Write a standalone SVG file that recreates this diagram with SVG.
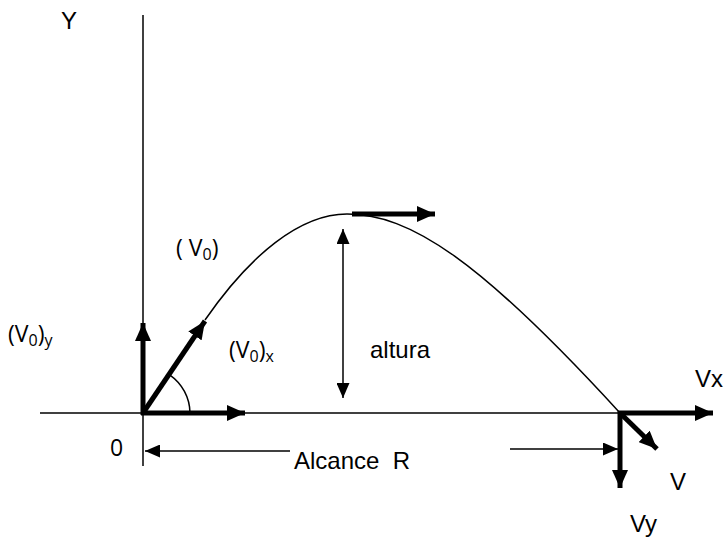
<svg xmlns="http://www.w3.org/2000/svg" width="725" height="539" viewBox="0 0 725 539">
<defs>
<marker id="thin" viewBox="0 0 15 13" refX="15" refY="6.5" markerWidth="15" markerHeight="13" markerUnits="userSpaceOnUse" orient="auto-start-reverse"><path d="M0,0 L15,6.5 L0,13 z" fill="#000"/></marker>
<marker id="thick" viewBox="0 0 18 16" refX="18" refY="8" markerWidth="18" markerHeight="16" markerUnits="userSpaceOnUse" orient="auto"><path d="M0,0 L18,8 L0,16 z" fill="#000"/></marker>
</defs>
<style>
.ln{stroke:#000;stroke-width:1.5;fill:none}
.tk{stroke:#000;stroke-width:5;fill:none;marker-end:url(#thick)}
.a{font-family:"Liberation Sans",Arial,sans-serif;font-size:24px;fill:#000}
.c{font-family:"Open Sans","Liberation Sans",sans-serif;font-size:23px;fill:#000}
.s{font-size:16px}
</style>
<g id="axes">
<line class="ln" x1="143" y1="15" x2="143" y2="466"/>
<line class="ln" x1="40" y1="413" x2="620" y2="413"/>
</g>
<g id="connectors">
<path class="ln" d="M205,320 C250,255 300,214 347,214 C410,214 480,260 620,413"/>
<path class="ln" d="M143,413 m47,0 A47,47 0 0 0 169.6,374.8"/>
<line class="ln" x1="343" y1="229" x2="343" y2="398" marker-start="url(#thin)" marker-end="url(#thin)"/>
<line class="ln" x1="290" y1="451" x2="145" y2="451" marker-end="url(#thin)"/>
<line class="ln" x1="510" y1="449" x2="618" y2="449" marker-end="url(#thin)"/>
<line class="tk" x1="143" y1="415" x2="143" y2="323"/>
<line class="tk" x1="143" y1="413" x2="205" y2="321"/>
<line class="tk" x1="141" y1="413" x2="245" y2="413"/>
<line class="tk" x1="352" y1="214" x2="435" y2="214"/>
<line class="tk" x1="618" y1="413" x2="713" y2="413"/>
<line class="tk" x1="620" y1="411" x2="620" y2="488"/>
<line class="tk" x1="620" y1="413" x2="657" y2="449"/>
</g>
<g id="labels">
<text class="a" x="61" y="29">Y</text>
<text class="c" x="176" y="256">( V<tspan class="s" dy="4">0</tspan><tspan dy="-4">)</tspan></text>
<text class="c" x="8" y="342">(V<tspan class="s" dy="4">0</tspan><tspan dy="-4">)</tspan><tspan class="s" dy="4">y</tspan></text>
<text class="c" x="229" y="358">(V<tspan class="s" dy="4">0</tspan><tspan dy="-4">)</tspan><tspan class="s" dy="4">x</tspan></text>
<text class="a" x="370" y="358">altura</text>
<text class="c" x="110" y="456">0</text>
<text class="a" x="294" y="469" xml:space="preserve">Alcance  R</text>
<text class="a" x="695" y="387">Vx</text>
<text class="a" x="670" y="490">V</text>
<text class="a" x="630" y="532">Vy</text>
</g>
</svg>
